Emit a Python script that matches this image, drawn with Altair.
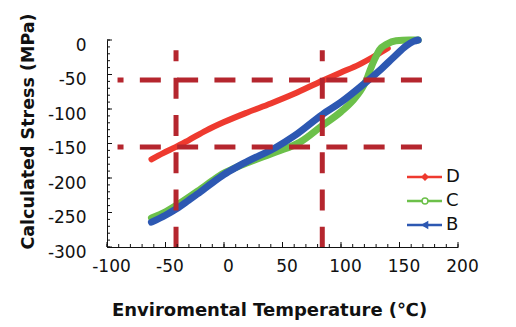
import altair as alt
import pandas as pd

# ---------------- data ----------------
series_names = ["D", "C", "B"]
series_colors = ["#EE3A2F", "#6CC04A", "#2D58B2"]
legend_fill = ["#EE3A2F", "#FFFFFF", "#2D58B2"]
legend_shapes = ["diamond", "circle", "triangle-left"]

d_temp = [-62, -52, -41, -30, -15, 0, 20, 40, 60, 84, 100, 115, 127, 135, 140]
d_stress = [-173, -164, -155, -145, -131, -119, -105, -92, -78, -59, -47, -36, -25, -17, -12]

c_temp = [-62, -50, -41, -20, -10, 0, 10, 20, 45, 65, 84, 100, 110, 118, 122, 125, 129, 133, 139, 147, 158, 166]
c_stress = [-258, -249, -240, -216, -204, -193, -185, -178, -162, -148, -124, -104, -88, -70, -57, -43, -27, -14, -6, -1, 0, 0]

b_temp = [-62, -50, -41, -30, -20, -10, 0, 10, 20, 45, 60, 84, 100, 120, 135, 145, 156, 162, 166]
b_stress = [-264, -254, -245, -232, -220, -207, -195, -185, -176, -155, -139, -108, -90, -63, -41, -25, -8, -2, 0]

hdash_stress = [-58, -155]
hdash_temp_range = [-91, 170]
vdash_temp = [-41, 84]
vdash_stress_range = [-15, -300]

x_major = [-100, -50, 0, 50, 100, 150, 200]
x_minor = list(range(-100, 201, 10))
y_major = [0, -50, -100, -150, -200, -250, -300]
y_minor = list(range(-300, 1, 10))

# ---------------- tables ----------------
rows = []
for name, ts, ss in [("D", d_temp, d_stress), ("C", c_temp, c_stress), ("B", b_temp, b_stress)]:
    for i, (t, s) in enumerate(zip(ts, ss)):
        rows.append({"series": name, "temp": t, "stress": s, "idx": i})
df = pd.DataFrame(rows)

hdf = pd.DataFrame({"stress": hdash_stress,
                    "t1": [hdash_temp_range[0]] * len(hdash_stress),
                    "t2": [hdash_temp_range[1]] * len(hdash_stress)})
vdf = pd.DataFrame({"temp": vdash_temp,
                    "s1": [vdash_stress_range[0]] * len(vdash_temp),
                    "s2": [vdash_stress_range[1]] * len(vdash_temp)})
xmaj = pd.DataFrame({"t": x_major})
xmin = pd.DataFrame({"t": x_minor})
ymaj = pd.DataFrame({"s": y_major})
ymin = pd.DataFrame({"s": y_minor})
legdf = pd.DataFrame({"series": series_names})

# ---------------- scales / axes ----------------
FONT = "DejaVu Sans"
W, H = 351, 207
xscale = alt.Scale(domain=[-100, 200], nice=False, zero=False)
yscale = alt.Scale(domain=[-300, 0], nice=False, zero=False)
color_scale = alt.Scale(domain=series_names, range=series_colors)

xaxis = alt.Axis(values=x_major, ticks=False, tickSize=0, grid=False,
                 domainColor="#111111", domainWidth=1,
                 labelExpr="toString(datum.value)",
                 labelFont=FONT, labelFontSize=17, labelColor="#111111",
                 labelPadding=11, labelOffset=4, labelFlush=False, labelOverlap=False,
                 title="Enviromental Temperature (℃)", titleFont=FONT, titleFontSize=18,
                 titleFontWeight="bold", titleColor="#111111",
                 titleX=162, titleY=68, titleAlign="center", titleBaseline="alphabetic")
yaxis = alt.Axis(values=y_major, ticks=False, tickSize=0, grid=False,
                 domainColor="#111111", domainWidth=1,
                 labelExpr="toString(datum.value)",
                 labelFont=FONT, labelFontSize=17, labelColor="#111111",
                 labelPadding=21, labelOffset=5, labelFlush=False, labelOverlap=False,
                 title="Calculated Stress (MPa)", titleFont=FONT, titleFontSize=17.5,
                 titleFontWeight="bold", titleColor="#111111", titleAngle=270,
                 titleX=-74, titleY=91, titleAlign="center", titleBaseline="alphabetic")


def X(field):
    return alt.X(field, type="quantitative", scale=xscale, axis=xaxis)


def Y(field):
    return alt.Y(field, type="quantitative", scale=yscale, axis=yaxis)


layers = []
widths = {"D": 6, "C": 7, "B": 7}
for name in ["D", "C", "B"]:
    layers.append(
        alt.Chart(df).transform_filter(alt.datum.series == name)
        .mark_line(strokeWidth=widths[name], strokeCap="round", strokeJoin="round",
                   interpolate="monotone")
        .encode(x=X("temp"), y=Y("stress"), order="idx:Q",
                color=alt.Color("series:N", scale=color_scale, legend=None))
    )

dash_style = dict(color="#B5262E", strokeWidth=5, strokeCap="butt")
layers.append(alt.Chart(hdf).mark_rule(strokeDash=[21, 16.3], strokeDashOffset=15, **dash_style)
              .encode(x=X("t1"), x2="t2:Q", y=Y("stress")))
layers.append(alt.Chart(vdf).mark_rule(strokeDash=[21, 16.3], strokeDashOffset=10, **dash_style)
              .encode(x=X("temp"), y=Y("s1"), y2="s2:Q"))

tick_style = dict(color="#111111", strokeWidth=1)
layers.append(alt.Chart(xmin).mark_rule(**tick_style)
              .encode(x=X("t"), y=alt.value(H), y2=alt.value(H - 3)))
layers.append(alt.Chart(xmaj).mark_rule(**tick_style)
              .encode(x=X("t"), y=alt.value(H), y2=alt.value(H - 5)))
layers.append(alt.Chart(ymin).mark_rule(**tick_style)
              .encode(y=Y("s"), x=alt.value(0), x2=alt.value(3)))
layers.append(alt.Chart(ymaj).mark_rule(**tick_style)
              .encode(y=Y("s"), x=alt.value(0), x2=alt.value(5)))

main = alt.layer(*layers)

# ---------------- legend ----------------
leg_y = alt.Y("series:N", scale=alt.Scale(type="point", domain=series_names, range=[137, 185], padding=0),
              axis=None)
leg_line = alt.Chart(legdf).mark_rule(strokeWidth=2.5).encode(
    x=alt.value(300), x2=alt.value(335), y=leg_y,
    color=alt.Color("series:N", scale=color_scale, legend=None))
leg_pt = alt.Chart(legdf).mark_point(size=35, strokeWidth=1.5, opacity=1).encode(
    x=alt.value(318), y=leg_y,
    shape=alt.Shape("series:N", scale=alt.Scale(domain=series_names, range=legend_shapes), legend=None),
    stroke=alt.Stroke("series:N", scale=alt.Scale(domain=series_names, range=series_colors), legend=None),
    fill=alt.Fill("series:N", scale=alt.Scale(domain=series_names, range=legend_fill), legend=None))
leg_txt = alt.Chart(legdf).mark_text(align="left", baseline="middle", font=FONT, fontSize=18,
                                     color="#111111").encode(
    x=alt.value(339), y=leg_y, text="series:N")
legend = alt.layer(leg_line, leg_pt, leg_txt)

chart = alt.layer(main, legend).resolve_scale(y="independent").properties(
    width=W, height=H,
    autosize=alt.AutoSizeParams(type="none"),
    padding={"left": 107, "top": 40, "right": 58, "bottom": 80},
    background="white",
).configure_view(stroke=None)

chart.save("out.html", embed_options={"renderer": "svg", "actions": False})
